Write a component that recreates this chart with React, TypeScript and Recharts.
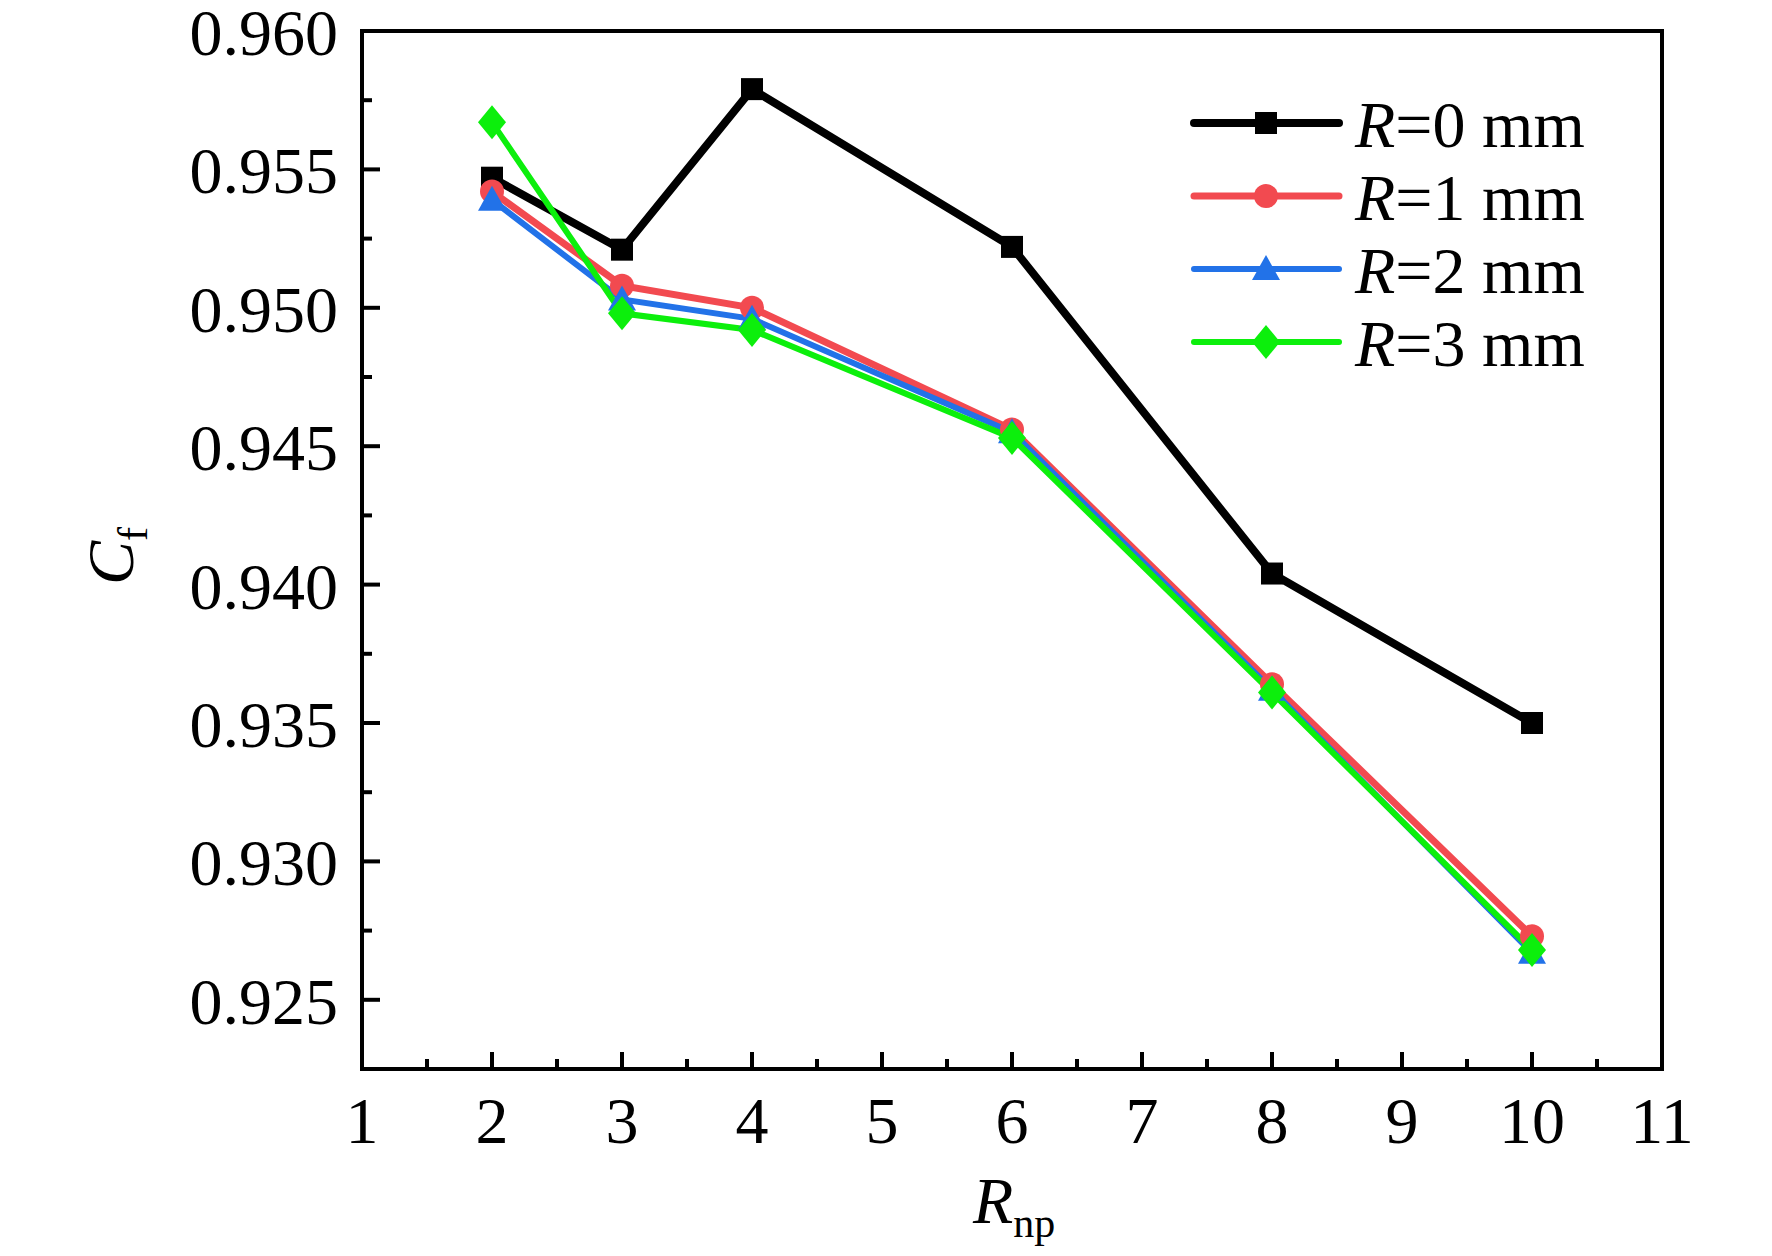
import React from 'react';
import { LineChart, Line, XAxis, YAxis, ReferenceArea, Legend } from 'recharts';

// R_np values (x) and C_f for each fillet radius R
const rnp = [2, 3, 4, 6, 8, 10];
const cfR0 = [0.9547, 0.9521, 0.9579, 0.9522, 0.9404, 0.935];
const cfR1 = [0.9542, 0.9508, 0.95, 0.9456, 0.9364, 0.9273];
const cfR2 = [0.9539, 0.9503, 0.9496, 0.9455, 0.9362, 0.9267];
const cfR3 = [0.9567, 0.9498, 0.9492, 0.9453, 0.9361, 0.9268];

const radii = ['0', '1', '2', '3'];

const xMajorTicks = [1, 2, 3, 4, 5, 6, 7, 8, 9, 10, 11];
const xMinorTicks = [1.5, 2.5, 3.5, 4.5, 5.5, 6.5, 7.5, 8.5, 9.5, 10.5];
const yMajorTicks = [0.925, 0.93, 0.935, 0.94, 0.945, 0.95, 0.955, 0.96];
const yMinorTicks = [0.9275, 0.9325, 0.9375, 0.9425, 0.9475, 0.9525, 0.9575];

const data = rnp.map((x, i) => ({
  x,
  r0: cfR0[i],
  r1: cfR1[i],
  r2: cfR2[i],
  r3: cfR3[i],
}));

const FONT = '"Liberation Serif", "Times New Roman", serif';
const X_DOMAIN: [number, number] = [1, 11];
const Y_DOMAIN: [number, number] = [0.9225, 0.96];

const COLORS = {
  r0: '#000000',
  r1: '#F24A50',
  r2: '#2272E8',
  r3: '#0CEF0C',
};

function Marker({ kind, cx, cy }: { kind: string; cx: number; cy: number }) {
  if (kind === 'r0') {
    return <rect x={cx - 11} y={cy - 11} width={22} height={22} fill={COLORS.r0} />;
  }
  if (kind === 'r1') {
    return <circle cx={cx} cy={cy} r={12} fill={COLORS.r1} />;
  }
  if (kind === 'r2') {
    return (
      <polygon
        points={`${cx},${cy - 14} ${cx + 14},${cy + 11} ${cx - 14},${cy + 11}`}
        fill={COLORS.r2}
      />
    );
  }
  return (
    <polygon
      points={`${cx},${cy - 17} ${cx + 14},${cy} ${cx},${cy + 17} ${cx - 14},${cy}`}
      fill={COLORS.r3}
    />
  );
}

const makeDot = (kind: string) => (p: any) => {
  if (p.cx == null || p.cy == null) return <g key={`${kind}-${p.index}`} />;
  return (
    <g key={`${kind}-${p.index}`}>
      <Marker kind={kind} cx={p.cx} cy={p.cy} />
    </g>
  );
};

const YMajorTick = (props: any) => {
  const { x, y, payload } = props;
  return (
    <g>
      <line x1={x} y1={y} x2={x + 18} y2={y} stroke="#000" strokeWidth={4} />
      <text x={x - 24} y={y + 24} textAnchor="end" fontFamily={FONT} fontSize={66} fill="#000">
        {Number(payload.value).toFixed(3)}
      </text>
    </g>
  );
};

const YMinorTick = (props: any) => {
  const { x, y } = props;
  return <line x1={x} y1={y} x2={x + 11} y2={y} stroke="#000" strokeWidth={4} />;
};

const XMajorTick = (props: any) => {
  const { x, y, payload } = props;
  return (
    <g>
      <line x1={x} y1={y} x2={x} y2={y - 17} stroke="#000" strokeWidth={4} />
      <text x={x} y={y + 74} textAnchor="middle" fontFamily={FONT} fontSize={66} fill="#000">
        {payload.value}
      </text>
    </g>
  );
};

const XMinorTick = (props: any) => {
  const { x, y } = props;
  return <line x1={x} y1={y} x2={x} y2={y - 11} stroke="#000" strokeWidth={4} />;
};

// legend svg starts 30px above the first row so the text is not clipped
const LEGEND_PAD = 30;

const LegendContent = (props: any) => {
  const payload = props.payload || [];
  return (
    <svg width={520} height={340}>
      {payload.map((entry: any, i: number) => {
        const key = entry.dataKey as string;
        const cy = LEGEND_PAD + 33 + i * 73;
        const sw = key === 'r0' ? 8 : key === 'r1' ? 7 : 6;
        return (
          <g key={key}>
            <line x1={16} y1={cy} x2={161} y2={cy} stroke={entry.color} strokeWidth={sw} strokeLinecap="round" />
            <Marker kind={key} cx={88} cy={cy} />
            <text x={177} y={cy + 24} fontFamily={FONT} fontSize={66} fill="#000">
              <tspan fontStyle="italic">R</tspan>
              {`=${radii[i]} mm`}
            </text>
          </g>
        );
      })}
    </svg>
  );
};

export default function App() {
  return (
    <div style={{ position: 'absolute', left: 0, top: 0, width: 1772, height: 1256, background: '#fff' }}>
      <LineChart
        width={1772}
        height={1256}
        data={data}
        margin={{ top: 31, right: 110, bottom: 185, left: 360 }}
      >
        <XAxis
          xAxisId="main"
          type="number"
          dataKey="x"
          domain={X_DOMAIN}
          ticks={xMajorTicks}
          interval={0}
          height={1}
          tickSize={0}
          tickMargin={0}
          tickLine={false}
          axisLine={{ stroke: '#000', strokeWidth: 4 }}
          tick={<XMajorTick />}
        />
        <XAxis
          xAxisId="minor"
          type="number"
          dataKey="x"
          domain={X_DOMAIN}
          ticks={xMinorTicks}
          interval={0}
          height={1}
          tickSize={0}
          tickMargin={0}
          tickLine={false}
          axisLine={false}
          tick={<XMinorTick />}
        />
        <YAxis
          yAxisId="main"
          type="number"
          domain={Y_DOMAIN}
          ticks={yMajorTicks}
          interval={0}
          width={1}
          tickSize={0}
          tickMargin={0}
          tickLine={false}
          allowDataOverflow
          axisLine={{ stroke: '#000', strokeWidth: 4 }}
          tick={<YMajorTick />}
        />
        <YAxis
          yAxisId="minor"
          type="number"
          domain={Y_DOMAIN}
          ticks={yMinorTicks}
          interval={0}
          width={1}
          tickSize={0}
          tickMargin={0}
          tickLine={false}
          allowDataOverflow
          axisLine={false}
          tick={<YMinorTick />}
        />
        <ReferenceArea
          xAxisId="main"
          yAxisId="main"
          x1={X_DOMAIN[0]}
          x2={X_DOMAIN[1]}
          y1={Y_DOMAIN[0]}
          y2={Y_DOMAIN[1]}
          fill="none"
          fillOpacity={0}
          stroke="#000"
          strokeWidth={4}
        />
        <Line xAxisId="main" yAxisId="main" type="linear" dataKey="r0" stroke={COLORS.r0} strokeWidth={8}
          dot={makeDot('r0')} activeDot={false} isAnimationActive={false} />
        <Line xAxisId="main" yAxisId="main" type="linear" dataKey="r1" stroke={COLORS.r1} strokeWidth={7}
          dot={makeDot('r1')} activeDot={false} isAnimationActive={false} />
        <Line xAxisId="main" yAxisId="main" type="linear" dataKey="r2" stroke={COLORS.r2} strokeWidth={6}
          dot={makeDot('r2')} activeDot={false} isAnimationActive={false} />
        <Line xAxisId="main" yAxisId="main" type="linear" dataKey="r3" stroke={COLORS.r3} strokeWidth={6}
          dot={makeDot('r3')} activeDot={false} isAnimationActive={false} />
        <Legend
          layout="horizontal"
          verticalAlign="middle"
          align="center"
          content={<LegendContent />}
          wrapperStyle={{ top: 90 - LEGEND_PAD, left: 1178, width: 520, height: 340 }}
        />
      </LineChart>
      <svg
        width={1772}
        height={1256}
        style={{ position: 'absolute', left: 0, top: 0, pointerEvents: 'none' }}
      >
        <text x={133} y={585} transform="rotate(-90 133 585)" fontFamily={FONT} fontSize={66} fill="#000">
          <tspan fontStyle="italic">C</tspan>
          <tspan fontSize={42} dy={14}>f</tspan>
        </text>
        <text x={973} y={1223} fontFamily={FONT} fontSize={66} fill="#000">
          <tspan fontStyle="italic">R</tspan>
          <tspan fontSize={42} dy={14}>np</tspan>
        </text>
      </svg>
    </div>
  );
}
